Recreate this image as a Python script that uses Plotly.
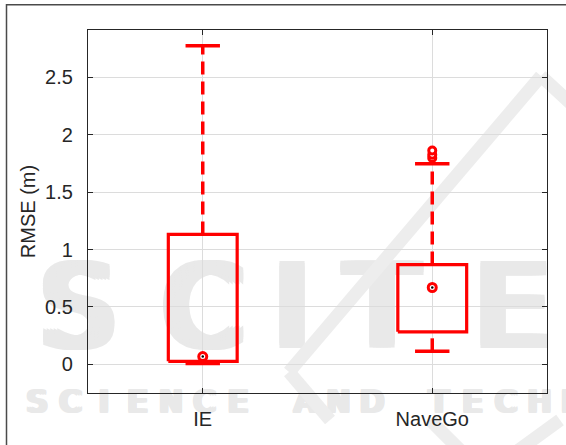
import plotly.graph_objects as go

# Summary statistics of the RMSE for each method
methods = ["IE", "NaveGo"]
positions = [1, 2]
q1 = [0.026, 0.283]
median = [0.067, 0.669]
q3 = [1.131, 0.869]
lower_whisker = [0.008, 0.113]
upper_whisker = [2.775, 1.746]
outliers = [[], [1.798, 1.826, 1.862]]

yticks = [0, 0.5, 1, 1.5, 2, 2.5]

RED = "#ff0000"
BOX_HALF = 0.15
CAP_HALF = 0.075

fig = go.Figure()

# Plot-area geometry in pixels (used for decorative overlay placement)
W, H = 566, 445
L, R, T, B = 88, 547, 30, 393


def px(x):
    return (x - L) / (R - L)


def py(y):
    return (B - y) / (B - T)


shapes = []
wm_col = "#e9e9e9"


def heavy_letter(ch, cx, cy, size, dxs, dys):
    # Overlapping copies thicken the strokes of the faint watermark glyphs
    for dx in dxs:
        for dy in dys:
            shapes.append(dict(
                type="rect", xref="paper", yref="paper", layer="below",
                x0=px(cx + dx - 70), x1=px(cx + dx + 70),
                y0=py(cy + dy + 50), y1=py(cy + dy - 50),
                line=dict(width=0), fillcolor="rgba(0,0,0,0)",
                label=dict(text=ch, textposition="middle center",
                           font=dict(size=size, color=wm_col, family="DejaVu Sans")),
            ))


# Faint background watermark, kept beneath the data
for ch, cx in [("S", 78), ("C", 203), ("I", 292), ("T", 382), ("E", 512)]:
    heavy_letter(ch, cx, 298, 112, [-7, -3.5, 0, 3.5, 7], [-2.5, 0, 2.5])
sub = "SCIENCE AND TECHN"
x_start, step = 37, 33.5
for i, ch in enumerate(sub):
    if ch != " ":
        heavy_letter(ch, x_start + i * step, 399, 30, [-2.5, 0, 2.5], [-1, 0, 1])
for (xa, ya, xb, yb) in [(289, 372, 541, 76), (541, 76, 580, 112),
                         (289, 372, 330, 420), (430, 420, 470, 460), (505, 460, 560, 420)]:
    shapes.append(dict(
        type="line", xref="paper", yref="paper", layer="below",
        x0=px(xa), y0=py(ya), x1=px(xb), y1=py(yb),
        line=dict(color="#ededed", width=13),
    ))

# Outer frame around the figure
shapes.append(dict(
    type="rect", xref="paper", yref="paper", layer="above",
    x0=px(6.5), y0=py(480), x1=px(620), y1=py(4.7),
    line=dict(color="#4a4a4a", width=1.5), fillcolor="rgba(0,0,0,0)",
))

for i, pos in enumerate(positions):
    # whiskers (dashed)
    fig.add_trace(go.Scatter(
        x=[pos, pos], y=[q3[i], upper_whisker[i]], mode="lines",
        line=dict(color=RED, width=3.5, dash="13px,7px"), hoverinfo="skip"))
    fig.add_trace(go.Scatter(
        x=[pos, pos], y=[lower_whisker[i], q1[i]], mode="lines",
        line=dict(color=RED, width=3.5, dash="13px,7px"), hoverinfo="skip"))
    # whisker caps
    for v in (upper_whisker[i], lower_whisker[i]):
        fig.add_trace(go.Scatter(
            x=[pos - CAP_HALF, pos + CAP_HALF], y=[v, v], mode="lines",
            line=dict(color=RED, width=3.5), hoverinfo="skip"))
    # box
    fig.add_trace(go.Scatter(
        x=[pos - BOX_HALF, pos + BOX_HALF, pos + BOX_HALF, pos - BOX_HALF, pos - BOX_HALF],
        y=[q1[i], q1[i], q3[i], q3[i], q1[i]], mode="lines",
        line=dict(color=RED, width=3.2), hoverinfo="skip"))
    # outliers
    if outliers[i]:
        fig.add_trace(go.Scatter(
            x=[pos] * len(outliers[i]), y=outliers[i], mode="markers",
            marker=dict(symbol="circle", size=7, color="white",
                        line=dict(color=RED, width=3)), hoverinfo="skip"))
    # median target marker
    fig.add_trace(go.Scatter(
        x=[pos], y=[median[i]], mode="markers",
        marker=dict(symbol="circle", size=8, color="white",
                    line=dict(color=RED, width=3)), hoverinfo="skip"))
    fig.add_trace(go.Scatter(
        x=[pos], y=[median[i]], mode="markers",
        marker=dict(symbol="circle", size=2.5, color="black"), hoverinfo="skip"))

axis_col = "#262626"
fig.update_layout(
    width=W, height=H,
    margin=dict(l=L, r=W - R, t=T, b=H - B),
    paper_bgcolor="white", plot_bgcolor="rgba(0,0,0,0)",
    showlegend=False,
    font=dict(family="Liberation Sans, Arial", color=axis_col, size=20),
    shapes=shapes,
    xaxis=dict(
        range=[0.5, 2.5], tickvals=positions, ticktext=methods,
        showgrid=True, gridcolor="#dcdcdc", gridwidth=1,
        showline=True, linecolor=axis_col, linewidth=1.2, mirror="ticks",
        ticks="inside", ticklen=5, tickcolor=axis_col, tickwidth=1,
        ticklabelstandoff=8, zeroline=False,
        tickfont=dict(size=20, color=axis_col),
    ),
    yaxis=dict(
        range=[-0.25, 2.912], tickvals=yticks,
        ticktext=["0", "0.5", "1", "1.5", "2", "2.5"],
        showgrid=True, gridcolor="#dcdcdc", gridwidth=1,
        showline=True, linecolor=axis_col, linewidth=1.2, mirror="ticks",
        ticks="inside", ticklen=5, tickcolor=axis_col, tickwidth=1,
        ticklabelstandoff=10, zeroline=False,
        tickfont=dict(size=20, color=axis_col),
        title=dict(text="RMSE (m)", font=dict(size=20, color=axis_col), standoff=4),
    ),
)

fig.write_html("out.html")
